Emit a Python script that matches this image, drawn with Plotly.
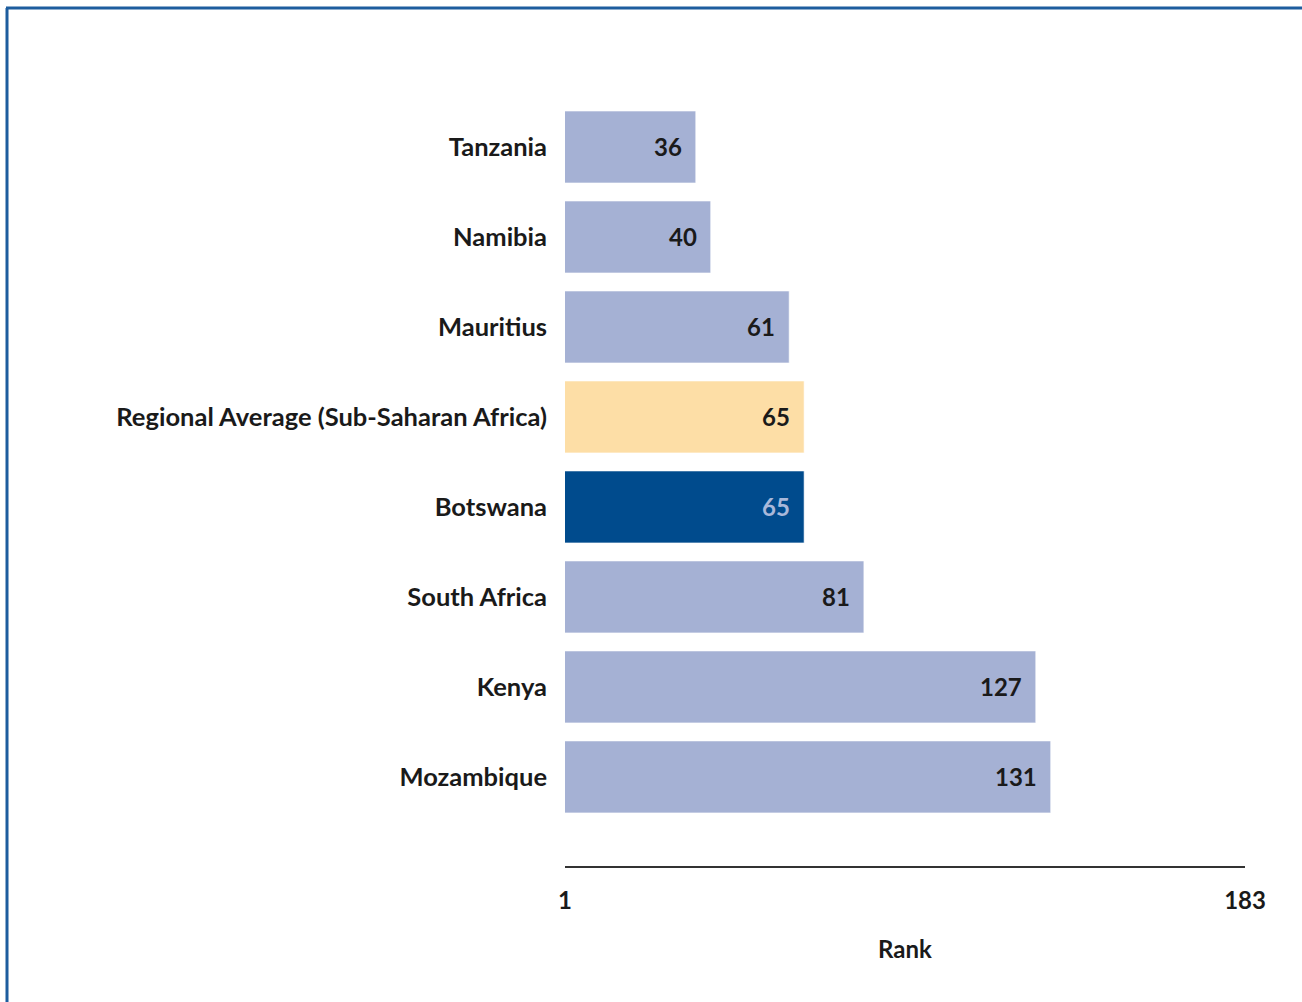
import plotly.graph_objects as go

# ── Data ──────────────────────────────────────────────────────────────────────
countries = [
    "Tanzania",
    "Namibia",
    "Mauritius",
    "Regional Average (Sub-Saharan Africa)",
    "Botswana",
    "South Africa",
    "Kenya",
    "Mozambique",
]
ranks = [36, 40, 61, 65, 65, 81, 127, 131]
rank_min, rank_max = 1, 183
tick_vals = [1, 183]
tick_text = ["1", "183"]

# ── Style ─────────────────────────────────────────────────────────────────────
BAR = "#A5B1D4"
AVERAGE = "#FDDEA6"
FOCUS = "#004B8D"
TEXT = "#1A1A1A"
FONT = "Lato, 'Open Sans', sans-serif"
SIZE = 24

W, H = 1302, 1002
L, R, T, B = 565, 57, 102, 136
plot_w, plot_h = W - L - R, H - T - B

colors = []
label_colors = []
for c in countries:
    if c == "Botswana":
        colors.append(FOCUS)
        label_colors.append("#A9B8DA")
    elif c.startswith("Regional"):
        colors.append(AVERAGE)
        label_colors.append(TEXT)
    else:
        colors.append(BAR)
        label_colors.append(TEXT)

fig = go.Figure(
    go.Bar(
        x=ranks,
        y=countries,
        orientation="h",
        marker=dict(color=colors, line=dict(color="rgba(255,255,255,0.6)", width=1)),
        width=0.8,
        hoverinfo="x+y",
    )
)

# value labels inside the bar ends
for c, v, col in zip(countries, ranks, label_colors):
    fig.add_annotation(
        x=v, y=c, text=f"<b>{v}</b>", showarrow=False,
        xanchor="right", xshift=-12,
        font=dict(family=FONT, size=SIZE, color=col),
    )

# blue page frame (left and top edges)
def px_x(p):
    return (p - L) / plot_w

def px_y(p):
    return (H - B - p) / plot_h

fig.add_shape(type="line", xref="paper", yref="paper",
              x0=px_x(7), x1=px_x(7), y0=px_y(H + 5), y1=px_y(8),
              line=dict(color="#1D5D9E", width=3))
fig.add_shape(type="line", xref="paper", yref="paper",
              x0=px_x(6), x1=px_x(W + 5), y0=px_y(8), y1=px_y(8),
              line=dict(color="#1D5D9E", width=3))

fig.update_layout(
    width=W,
    height=H,
    margin=dict(l=L, r=R, t=T, b=B, autoexpand=False),
    paper_bgcolor="white",
    plot_bgcolor="white",
    font=dict(family=FONT, color=TEXT),
    showlegend=False,
    bargap=0.2,
    xaxis=dict(
        range=[rank_min, rank_max],
        tickvals=tick_vals,
        ticktext=[f"<b>{t}</b>" for t in tick_text],
        tickfont=dict(size=SIZE, color=TEXT),
        showgrid=False,
        zeroline=False,
        showline=True,
        linecolor="#333333",
        linewidth=2,
        ticks="",
        ticklabelstandoff=12,
        title=dict(text="<b>Rank</b>", font=dict(size=SIZE, color=TEXT), standoff=28),
    ),
    yaxis=dict(
        categoryorder="array",
        categoryarray=countries,
        range=[7.99, -0.5],
        tickfont=dict(size=25.5, color=TEXT),
        tickvals=countries,
        ticktext=[f"<b>{c}</b>" for c in countries],
        showgrid=False,
        zeroline=False,
        showline=False,
        ticks="",
        ticklabelstandoff=17,
    ),
)

fig.write_html(
    "out.html",
    config={"displayModeBar": False},
    post_script="document.body.style.margin='0';",
)
